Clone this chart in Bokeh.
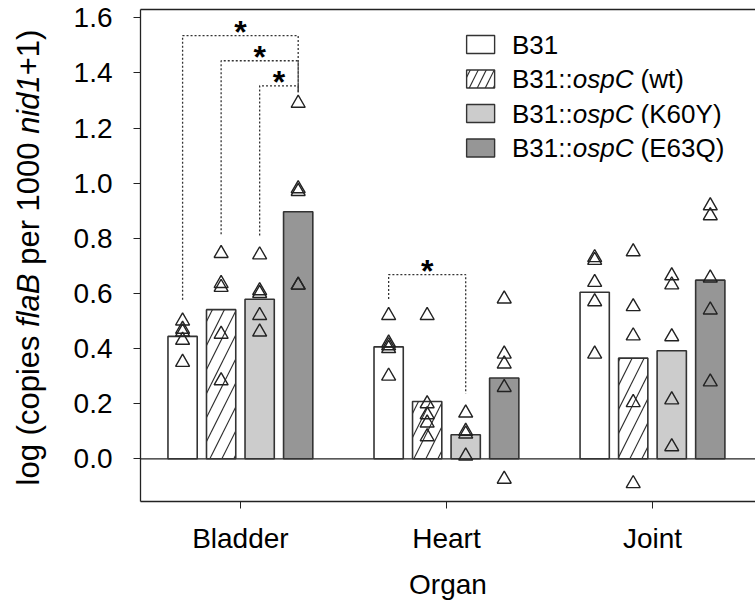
import math
from bokeh.plotting import figure
from bokeh.layouts import row
from bokeh.models import Range1d, LinearAxis, FixedTicker, ColumnDataSource
from bokeh.core.properties import value
from bokeh.embed import file_html
from bokeh.resources import INLINE

# ---------------- data ----------------
organs = ["Bladder", "Heart", "Joint"]
strains = ["B31", "B31::ospC (wt)", "B31::ospC (K60Y)", "B31::ospC (E63Q)"]

bar_b31 = [0.444, 0.406, 0.604]
bar_wt = [0.541, 0.208, 0.365]
bar_k60y = [0.579, 0.087, 0.392]
bar_e63q = [0.896, 0.293, 0.648]

pts_b31 = [[0.50, 0.47, 0.46, 0.43, 0.35],
           [0.52, 0.42, 0.41, 0.40, 0.30],
           [0.73, 0.72, 0.64, 0.57, 0.38]]
pts_wt = [[0.745, 0.636, 0.622, 0.452, 0.283],
          [0.52, 0.20, 0.16, 0.13, 0.08],
          [0.751, 0.552, 0.446, 0.204, -0.09]]
pts_k60y = [[0.74, 0.61, 0.60, 0.52, 0.46],
            [0.166, 0.10, 0.09, 0.01],
            [0.664, 0.631, 0.443, 0.214, 0.044]]
pts_e63q = [[1.29, 0.98, 0.97, 0.63, 0.63],
            [0.58, 0.38, 0.344, 0.259, -0.074],
            [0.918, 0.882, 0.656, 0.54, 0.279]]

# significance brackets
sig_organ = [0, 0, 0, 1]
sig_a = [0, 1, 2, 0]
sig_b = [3, 3, 3, 2]
sig_top = [1.535, 1.444, 1.353, 0.668]
sig_left_end = [0.577, 0.815, 0.81, 0.58]
sig_right_end = [1.33, 1.33, 1.33, 0.237]

y_ticks = [0.0, 0.2, 0.4, 0.6, 0.8, 1.0, 1.2, 1.4, 1.6]

# ---------------- styling ----------------
FONT = "Liberation Sans"
FS = 28
offsets = [-0.2805, -0.0935, 0.0935, 0.2805]
BAR_W = 0.142
fills = ["white", "white", "#cccccc", "#969696"]
hatches = [None, "/", None, None]
EDGE = "#333333"
AXC = "#222222"

X0, X1 = 0.5152, 3.5
Y0, Y1 = -0.155, 1.63
FRAME_L, FRAME_T, FRAME_B = 140, 9, 501
PX_X = 203.55
PX_Y = (FRAME_B - FRAME_T) / (Y1 - Y0)
TITLE_W = 60
FIG_W, FIG_H = 755, 607
BORDER_B = FIG_H - FRAME_B

def px2x(px):
    return X0 + (px - FRAME_L) / PX_X

def px2y(py):
    return Y1 - (py - FRAME_T) / PX_Y

AW = {' ': 278, '(': 333, ')': 333, '+': 584, ':': 278, '.': 278,
      'a': 556, 'b': 556, 'c': 500, 'd': 556, 'e': 556, 'f': 278, 'g': 556,
      'i': 222, 'l': 222, 'n': 556, 'o': 556, 'p': 556, 'r': 333, 's': 500,
      't': 278, 'w': 722, 'B': 667, 'C': 722, 'E': 667, 'K': 667, 'Q': 778,
      'Y': 667}
for d in "0123456789":
    AW[d] = 556

def tw(s, size):
    return sum(AW.get(c, 556) for c in s) * size / 1000.0

def segments(parts, size):
    """Return (text, style, offset) with leading/trailing spaces turned into offsets."""
    out = []
    off = 0.0
    for s, st in parts:
        lead = len(s) - len(s.lstrip(" "))
        core = s.strip(" ")
        out.append((core, st, off + tw(" " * lead, size)))
        off += tw(s, size)
    return out, off

# ---------------- y-axis title panel (frame matches main frame vertically) ----------------
t = figure(width=TITLE_W, height=FIG_H, output_backend="svg", toolbar_location=None,
           x_range=Range1d(0, TITLE_W), y_range=Range1d(Y0, Y1),
           x_axis_location=None, y_axis_location=None,
           min_border_left=0, min_border_right=0,
           min_border_top=FRAME_T, min_border_bottom=BORDER_B)
t.outline_line_color = None
t.grid.visible = False

ytitle = [("log (copies ", "normal"), ("flaB", "italic"), (" per 1000 ", "normal"),
          ("nid1", "italic"), ("+1)", "normal")]
YT_FS = 31
segs, total = segments(ytitle, YT_FS)
y_center = 257
start = y_center + total / 2
tt = dict(x=[], y=[], text=[], style=[])
for core, st, off in segs:
    tt["x"].append(28)
    tt["y"].append(px2y(start - off))
    tt["text"].append(core)
    tt["style"].append(st)
t.text(x="x", y="y", text="text", text_font_style="style", source=ColumnDataSource(tt),
       angle=math.pi / 2, text_font=value(FONT), text_font_size=f"{YT_FS}px",
       text_align="left", text_baseline="middle", text_color="black")

# ---------------- main plot ----------------
p = figure(width=FIG_W - TITLE_W, height=FIG_H, output_backend="svg", toolbar_location=None,
           x_range=Range1d(X0, X1), y_range=Range1d(Y0, Y1),
           min_border_left=FRAME_L - TITLE_W, min_border_right=0,
           min_border_top=FRAME_T, min_border_bottom=BORDER_B)
p.outline_line_color = None
p.grid.visible = False
p.background_fill_color = "white"

xax = p.below[0]
yax = p.left[0]

# top border
top_axis = LinearAxis(ticker=FixedTicker(ticks=[]), major_tick_out=0, major_tick_in=0,
                      minor_tick_out=0, minor_tick_in=0, major_label_text_font_size="0px",
                      axis_line_color=AXC, axis_line_width=1.3, major_label_standoff=0,
                      axis_label_standoff=0)
p.add_layout(top_axis, "above")

xax.ticker = FixedTicker(ticks=[1, 2, 3])
xax.major_label_overrides = {1: organs[0], 2: organs[1], 3: organs[2]}
xax.minor_tick_line_color = None
xax.major_tick_out = 7
xax.major_tick_in = 0
xax.axis_line_color = AXC
xax.axis_line_width = 1.3
xax.major_tick_line_color = AXC
xax.major_label_text_font = FONT
xax.major_label_text_font_size = f"{FS}px"
xax.major_label_text_color = "black"
xax.major_label_standoff = 14
xax.axis_label = "Organ"
xax.axis_label_text_font = FONT
xax.axis_label_text_font_size = f"{FS}px"
xax.axis_label_text_font_style = "normal"
xax.axis_label_text_color = "black"
xax.axis_label_standoff = 12

yax.ticker = FixedTicker(ticks=y_ticks)
yax.major_label_overrides = {tk: f"{tk:.1f}" for tk in y_ticks}
yax.minor_tick_line_color = None
yax.major_tick_out = 7
yax.major_tick_in = 0
yax.axis_line_color = AXC
yax.axis_line_width = 1.3
yax.major_tick_line_color = AXC
yax.major_label_text_font = FONT
yax.major_label_text_font_size = f"{FS}px"
yax.major_label_text_color = "black"
yax.major_label_standoff = 21

# zero line
p.line(x=[X0, X1], y=[0, 0], line_color=AXC, line_width=1.3)

# bars
bars = [bar_b31, bar_wt, bar_k60y, bar_e63q]
pts = [pts_b31, pts_wt, pts_k60y, pts_e63q]
for si in range(4):
    xs = [i + 1 + offsets[si] for i in range(3)]
    kw = dict(x=xs, top=bars[si], bottom=0, width=BAR_W, fill_color=fills[si],
              line_color=EDGE, line_width=1.6)
    if hatches[si]:
        kw.update(hatch_pattern=hatches[si], hatch_color="#333333",
                  hatch_weight=1.2, hatch_scale=24)
    p.vbar(**kw)

# points
for si in range(4):
    px, py = [], []
    for oi in range(3):
        for v in pts[si][oi]:
            px.append(oi + 1 + offsets[si])
            py.append(v)
    p.scatter(px, py, marker="triangle", size=14, fill_color=None,
              line_color="#222222", line_width=1.4)

# significance brackets
bx, by, sx, sy = [], [], [], []
for k in range(len(sig_organ)):
    xa = sig_organ[k] + 1 + offsets[sig_a[k]]
    xb = sig_organ[k] + 1 + offsets[sig_b[k]]
    bx.append([xa, xa, xb, xb])
    by.append([sig_left_end[k], sig_top[k], sig_top[k], sig_right_end[k]])
    sx.append((xa + xb) / 2)
    sy.append(sig_top[k])
p.multi_line(bx, by, line_color="#333333", line_width=1.3, line_dash="2 2")
p.text(x=sx, y=sy, text=["*"] * len(sx), text_font=value(FONT), text_font_style="bold",
       text_font_size="32px", text_align="center", text_baseline="alphabetic",
       y_offset=-4, text_color="black")

# legend
LEG_SW_X = 476
LEG_TXT_X = 507
LEG_Y = [44, 78.5, 113, 147.5]
LEG_FS = 26
legend_parts = [[("B31", "normal")],
                [("B31::", "normal"), ("ospC", "italic"), (" (wt)", "normal")],
                [("B31::", "normal"), ("ospC", "italic"), (" (K60Y)", "normal")],
                [("B31::", "normal"), ("ospC", "italic"), (" (E63Q)", "normal")]]
for si in range(4):
    kw = dict(x=[px2x(LEG_SW_X)], y=[px2y(LEG_Y[si])], width=28, height=18,
              width_units="screen", height_units="screen",
              fill_color=fills[si], line_color=EDGE, line_width=1.4)
    if hatches[si]:
        kw.update(hatch_pattern=hatches[si], hatch_color="#333333",
                  hatch_weight=1.2, hatch_scale=16)
    p.rect(**kw)
lt = dict(x=[], y=[], xo=[], text=[], style=[])
for si in range(4):
    segs, _ = segments(legend_parts[si], LEG_FS)
    for core, st, off in segs:
        lt["x"].append(px2x(LEG_TXT_X))
        lt["y"].append(px2y(LEG_Y[si]))
        lt["xo"].append(off)
        lt["text"].append(core)
        lt["style"].append(st)
p.text(x="x", y="y", x_offset="xo", text="text", text_font_style="style",
       source=ColumnDataSource(lt), text_font=value(FONT), text_font_size=f"{LEG_FS}px",
       text_align="left", text_baseline="middle", text_color="black")

layout = row(t, p)
open("out.html", "w").write(file_html(layout, INLINE))
